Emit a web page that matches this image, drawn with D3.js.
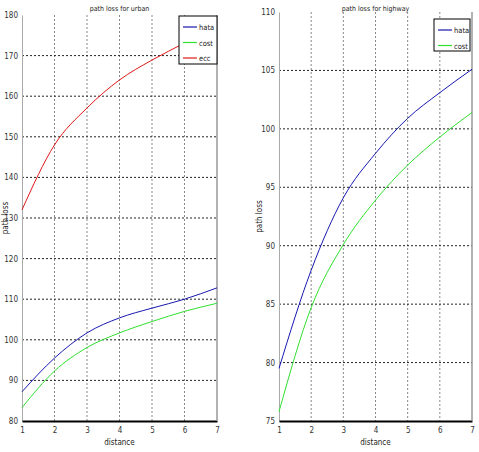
<!DOCTYPE html>
<html>
<head>
<meta charset="utf-8">
<script src="https://cdn.jsdelivr.net/npm/d3@7"></script>
<style>
body { margin: 0; background: #fff; }
text { font-family: "DejaVu Sans Condensed", "Liberation Sans", sans-serif; fill: #222; }
</style>
</head>
<body>
<svg id="chart1" width="479" height="452"></svg>
<script>
// distance values (x axis)
var distance = [1, 2, 3, 4, 5, 6, 7];

// urban plot
var urbanHata = [87.2, 95.5, 101.7, 105.4, 107.8, 110.0, 112.8];
var urbanCost = [83.3, 92.3, 98.1, 101.7, 104.5, 107.0, 109.0];
var urbanEcc  = [132.0, 148.0, 157.1, 164.0, 168.9, 173.1, 177.3];
var urbanTicks = [80, 90, 100, 110, 120, 130, 140, 150, 160, 170, 180];

// highway plot
var highwayHata = [79.5, 87.9, 94.1, 97.9, 100.9, 103.1, 105.1];
var highwayCost = [75.8, 84.7, 90.1, 93.9, 96.9, 99.3, 101.4];
var highwayTicks = [75, 80, 85, 90, 95, 100, 105, 110];

var colors = { hata: "#1818b0", cost: "#30e030", ecc: "#e01818" };

var svg = d3.select('#chart1');

drawPanel({
	left: 22, right: 217, top: 15, bottom: 421,
	domain: [80, 180], ticks: urbanTicks,
	title: "path loss for urban",
	series: [
		{ name: "hata", values: urbanHata, color: colors.hata },
		{ name: "cost", values: urbanCost, color: colors.cost },
		{ name: "ecc", values: urbanEcc, color: colors.ecc }
	],
	legend: { x: 179, y: 16, w: 38, h: 48 },
	ylabelX: 8
});

drawPanel({
	left: 279, right: 472, top: 12, bottom: 421,
	domain: [75, 110], ticks: highwayTicks,
	title: "path loss for highway",
	series: [
		{ name: "hata", values: highwayHata, color: colors.hata },
		{ name: "cost", values: highwayCost, color: colors.cost }
	],
	legend: { x: 434, y: 19, w: 36, h: 32 },
	ylabelX: 262
});

function drawPanel(p) {
	var x = d3.scaleLinear().domain([1, 7]).range([p.left, p.right]);
	var y = d3.scaleLinear().domain(p.domain).range([p.bottom, p.top]);
	var g = svg.append("g");

	// grid
	g.selectAll("line.vgrid")
		.data(distance.slice(1, -1))
		.enter().append("line")
		.attr("x1", function (d) { return x(d); })
		.attr("x2", function (d) { return x(d); })
		.attr("y1", p.top)
		.attr("y2", p.bottom)
		.style("stroke", "#888")
		.style("stroke-width", 1)
		.style("stroke-dasharray", "2,2");

	g.selectAll("line.hgrid")
		.data(p.ticks.slice(1, -1))
		.enter().append("line")
		.attr("x1", p.left)
		.attr("x2", p.right)
		.attr("y1", function (d) { return y(d); })
		.attr("y2", function (d) { return y(d); })
		.style("stroke", "#222")
		.style("stroke-width", 1)
		.style("stroke-dasharray", "2,2");

	// axes
	var yAxis = d3.axisLeft(y).tickValues(p.ticks).tickSize(0).tickPadding(4);
	var ya = g.append("g").attr("transform", "translate(" + p.left + ",0)").call(yAxis);
	ya.select(".domain").style("stroke", "#aaa");
	ya.selectAll("text").style("font-size", "8px").style("fill", "#333");

	var xAxis = d3.axisBottom(x).tickValues(distance).tickSize(0).tickPadding(6).tickFormat(d3.format("d"));
	var xa = g.append("g").attr("transform", "translate(0," + p.bottom + ")").call(xAxis);
	xa.select(".domain").style("stroke", "#000").style("stroke-width", 2);
	xa.selectAll("text").style("font-size", "8px").style("fill", "#333");

	// right edge
	g.append("line")
		.attr("x1", p.right).attr("x2", p.right)
		.attr("y1", p.top).attr("y2", p.bottom)
		.style("stroke", "#999").style("stroke-width", 1.5);

	// lines
	var line = d3.line()
		.x(function (d, i) { return x(distance[i]); })
		.y(function (d) { return y(d); })
		.curve(d3.curveMonotoneX);

	p.series.forEach(function (s) {
		g.append("path")
			.datum(s.values)
			.attr("d", line)
			.style("fill", "none")
			.style("stroke", s.color)
			.style("stroke-width", 1);
	});

	// labels
	g.append("text")
		.attr("x", (p.left + p.right) / 2)
		.attr("y", 11)
		.attr("text-anchor", "middle")
		.style("font-size", "7px")
		.text(p.title);

	g.append("text")
		.attr("x", (p.left + p.right) / 2)
		.attr("y", 445)
		.attr("text-anchor", "middle")
		.style("font-size", "8px")
		.text("distance");

	g.append("text")
		.attr("transform", "translate(" + p.ylabelX + "," + ((p.top + p.bottom) / 2) + ") rotate(-90)")
		.attr("text-anchor", "middle")
		.style("font-size", "8px")
		.text("path loss");

	// legend
	var lg = g.append("g").attr("transform", "translate(" + p.legend.x + "," + p.legend.y + ")");
	lg.append("rect")
		.attr("width", p.legend.w)
		.attr("height", p.legend.h)
		.style("fill", "#fff")
		.style("stroke", "#000")
		.style("stroke-width", 1);
	var items = lg.selectAll("g.item")
		.data(p.series)
		.enter().append("g")
		.attr("transform", function (d, i) { return "translate(0," + (11 + i * 15.5) + ")"; });
	items.append("line")
		.attr("x1", 4).attr("x2", 18)
		.style("stroke", function (d) { return d.color; })
		.style("stroke-width", 1.2);
	items.append("text")
		.attr("x", 20).attr("y", 3)
		.style("font-size", "7.5px")
		.text(function (d) { return d.name; });
}
</script>
</body>
</html>
